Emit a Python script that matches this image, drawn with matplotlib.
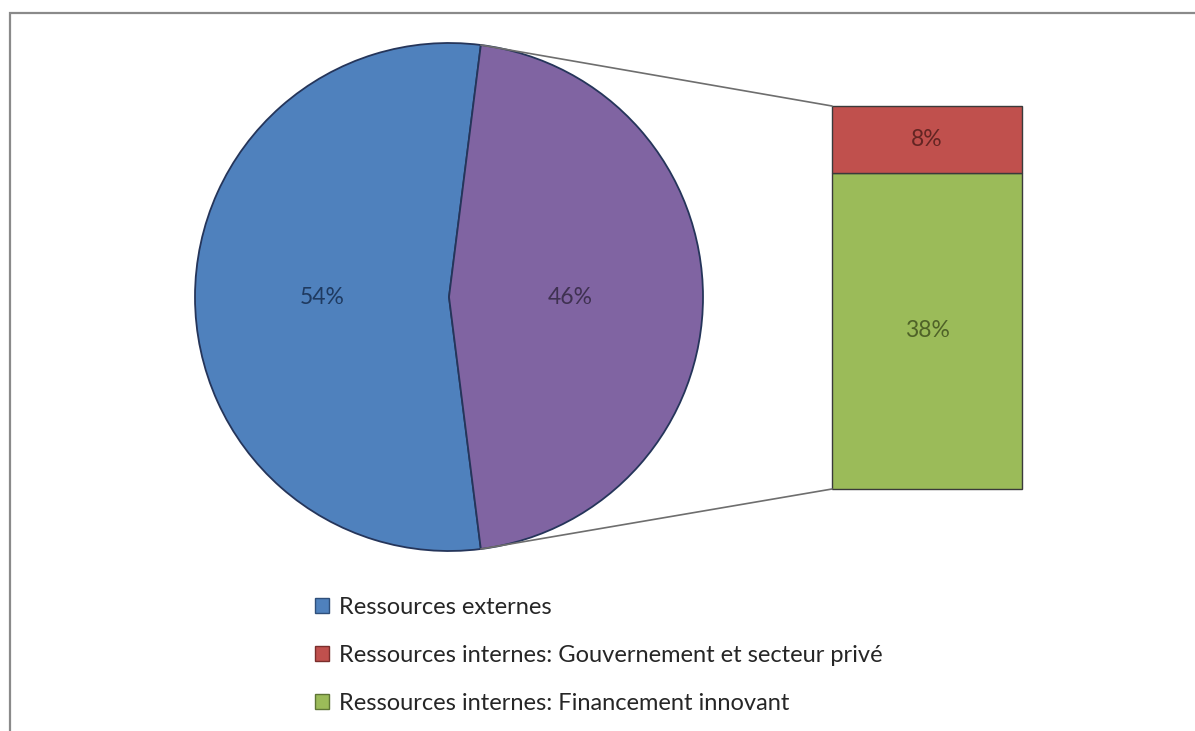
import matplotlib
matplotlib.use("Agg")
import matplotlib.pyplot as plt
from matplotlib.patches import Patch, Rectangle, ConnectionPatch
import numpy as np

# Data
pie_labels = ["Ressources externes", "Ressources internes"]
pie_values = [54, 46]
bar_labels = ["Ressources internes: Financement innovant",
              "Ressources internes: Gouvernement et secteur privé"]
bar_values = [38, 8]
legend_labels = ["Ressources externes",
                 "Ressources internes: Gouvernement et secteur privé",
                 "Ressources internes: Financement innovant"]

# Styling
c_blue, c_purple, c_red, c_green = "#4F81BD", "#8064A2", "#C0504D", "#9BBB59"
txt_blue, txt_purple, txt_red, txt_green = "#1F3A60", "#3F3151", "#632523", "#4F6228"
font = "Lato"
W, H = 1195, 731

fig = plt.figure(figsize=(W / 100, H / 100), dpi=100)
fig.patch.set_facecolor("white")

# Pie axes in pixel-like units
ax = fig.add_axes([0, 0, 1, 1])
ax.set_xlim(0, W)
ax.set_ylim(0, H)
ax.set_aspect("equal")
ax.axis("off")

cx, cy, r = 449, H - 297, 254
half = pie_values[1] / 100 * 360 / 2
wedges, _ = ax.pie(pie_values, colors=[c_blue, c_purple], startangle=half,
                   center=(cx, cy), radius=r, frame=True,
                   wedgeprops=dict(edgecolor="#25355A", linewidth=1.3))
ax.set_xlim(0, W)
ax.set_ylim(0, H)
ax.axis("off")

ax.text(322, H - 298, f"{pie_values[0]}%", ha="center", va="center",
        fontsize=16.5, color=txt_blue, family=font)
ax.text(570, H - 298, f"{pie_values[1]}%", ha="center", va="center",
        fontsize=16.5, color=txt_purple, family=font)

# Stacked bar for the split of the second slice
bx0, bx1, by_top, by_bot = 832, 1022, 106, 489
bax = fig.add_axes([bx0 / W, (H - by_bot) / H, (bx1 - bx0) / W, (by_bot - by_top) / H])
bax.set_xlim(-0.5, 0.5)
bax.set_ylim(0, sum(bar_values))
bax.axis("off")
bottom = 0
for val, col, tcol in zip(bar_values, [c_green, c_red], [txt_green, txt_red]):
    bax.bar(0, val, width=1.0, bottom=bottom, color=col, edgecolor="#3A3A3A",
            linewidth=1.0, clip_on=False)
    bax.text(0, bottom + val / 2, f"{val}%", ha="center", va="center",
             fontsize=16.5, color=tcol, family=font)
    bottom += val

# Connector lines from the slice edges to the bar corners
w = wedges[1]
for ang, ycorner in [(w.theta2, sum(bar_values)), (w.theta1, 0)]:
    t = np.deg2rad(ang)
    p = (cx + r * np.cos(t), cy + r * np.sin(t))
    con = ConnectionPatch(xyA=(-0.5, ycorner), coordsA=bax.transData,
                          xyB=p, coordsB=ax.transData,
                          color="#6E6E6E", linewidth=1.2)
    fig.add_artist(con)

# Legend
handles = [Patch(facecolor=c, edgecolor=e, linewidth=1.0)
           for c, e in [(c_blue, "#2F4F7A"), (c_red, "#7A2E2C"), (c_green, "#5E7536")]]
leg = fig.legend(handles, legend_labels, loc="upper left",
                 bbox_to_anchor=(315 / W, 1 - 597 / H), frameon=False,
                 prop=dict(family=font, size=17), labelspacing=1.14,
                 handlelength=0.6, handleheight=0.6, handletextpad=0.4,
                 borderaxespad=0, borderpad=0)
for t in leg.get_texts():
    t.set_color("#262626")

# Outer frame (left and top edges visible)
fig.add_artist(Rectangle((10 / W, -0.05), 1.2, 1 - 13 / H + 0.05,
                         transform=fig.transFigure, fill=False,
                         edgecolor="#8A8A8A", linewidth=1.6))

fig.savefig("out.png", dpi=100, facecolor="white")
